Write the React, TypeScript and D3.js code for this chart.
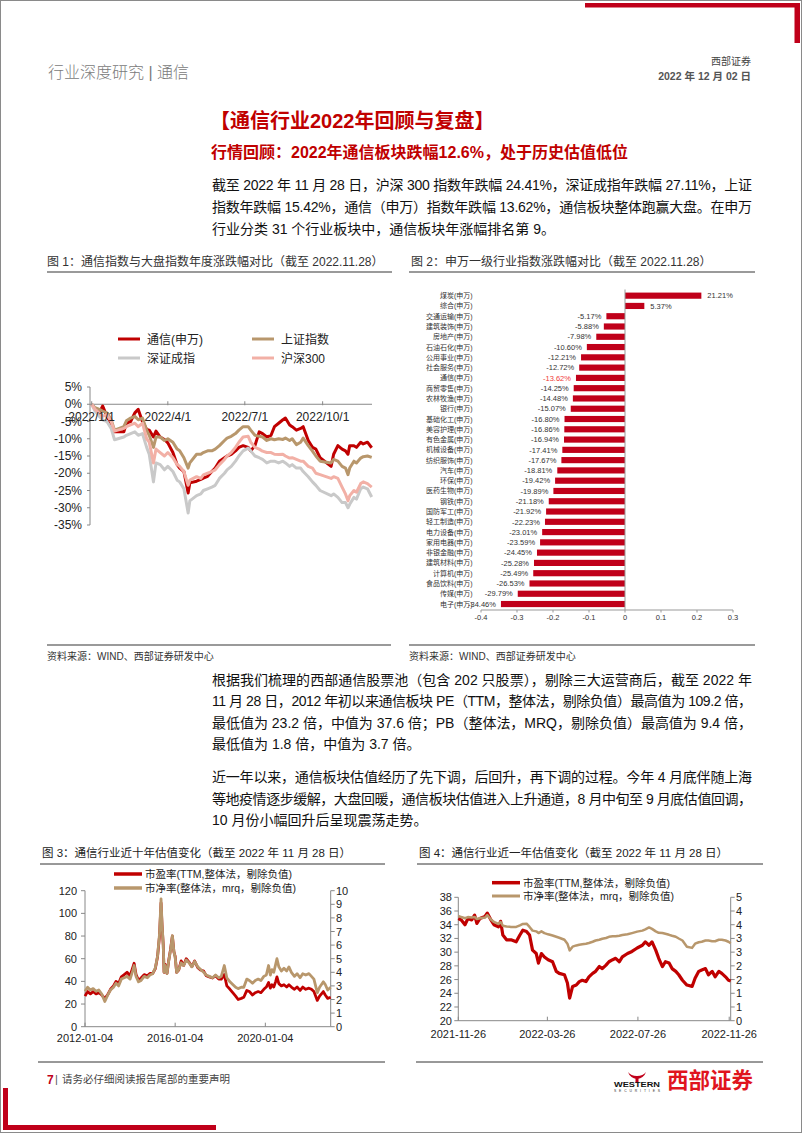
import React from 'react';
import * as d3 from 'd3';

const FONT = '"Liberation Sans", "Noto Sans CJK SC", sans-serif';
const RED = '#C00000';
const TAN = '#B8976C';
const GREY = '#C9C9C9';
const PINK = '#F2B0A6';
const BAR = '#C0001A';

const parse = (s: string) => d3.timeParse('%Y-%m-%d')(s) as Date;

// ---- Figure 1: index YTD change (%) ----
const f1Dates = [
  '2022-01-01', '2022-01-05', '2022-01-10', '2022-01-14', '2022-01-19', '2022-01-24', '2022-01-28',
  '2022-02-08', '2022-02-11', '2022-02-16', '2022-02-21', '2022-02-25',
  '2022-03-02', '2022-03-07', '2022-03-10', '2022-03-15', '2022-03-18', '2022-03-23', '2022-03-28',
  '2022-04-01', '2022-04-07', '2022-04-12', '2022-04-15', '2022-04-20', '2022-04-25', '2022-04-27',
  '2022-05-05', '2022-05-10', '2022-05-13', '2022-05-18', '2022-05-23', '2022-05-27',
  '2022-06-01', '2022-06-07', '2022-06-10', '2022-06-15', '2022-06-20', '2022-06-24', '2022-06-29',
  '2022-07-05', '2022-07-08', '2022-07-13', '2022-07-18', '2022-07-22', '2022-07-27',
  '2022-08-01', '2022-08-05', '2022-08-10', '2022-08-15', '2022-08-18', '2022-08-23', '2022-08-26', '2022-08-31',
  '2022-09-05', '2022-09-08', '2022-09-14', '2022-09-19', '2022-09-23', '2022-09-28',
  '2022-10-11', '2022-10-14', '2022-10-19', '2022-10-24', '2022-10-28', '2022-10-31',
  '2022-11-02', '2022-11-07', '2022-11-10', '2022-11-15', '2022-11-18', '2022-11-23', '2022-11-28',
];
const f1Tongxin = [
  0, -1.5, -2.5, -0.5, -3.5, -6.0, -8.0,
  -8.0, -5.5, -5.0, -2.5, -1.5,
  -5.0, -7.3, -7.5, -9.5, -7.8, -9.5, -10.2,
  -11.2, -14.0, -17.5, -18.5, -19.5, -25.7, -22.8,
  -22.3, -21.8, -21.4, -20.9, -19.5, -18.5,
  -16.5, -15.5, -15.0, -14.5, -13.5, -12.5, -12.0,
  -12.5, -13.5, -12.0, -8.0, -8.5, -9.5,
  -9.0, -6.5, -5.5, -4.5, -4.0, -6.0, -6.5, -7.5,
  -7.0, -6.5, -10.5, -12.5, -13.0, -15.5,
  -18.0, -14.5, -12.0, -13.0, -13.5, -14.5,
  -12.0, -12.0, -12.5, -11.0, -11.5, -11.0, -12.6,
];
const f1Shangzheng = [
  0, -1.0, -1.5, -2.0, -2.5, -4.5, -7.5,
  -6.5, -4.8, -4.0, -3.5, -4.5,
  -4.0, -7.5, -9.0, -12.5, -9.5, -9.5, -10.5,
  -10.0, -11.0, -13.0, -13.5, -15.5, -18.5, -17.0,
  -14.5, -14.5, -14.0, -13.5, -13.5, -13.0,
  -12.0, -10.5, -9.8, -9.3, -8.5, -7.5, -6.5,
  -6.5, -7.5, -9.0, -9.3, -9.5, -10.5,
  -10.0, -10.3, -10.0, -10.2, -9.8, -10.5, -10.0, -11.7,
  -11.0, -9.8, -12.0, -13.6, -15.0, -16.5,
  -17.0, -16.0, -16.5, -18.0, -18.5, -20.4,
  -18.5, -16.5, -17.0, -15.6, -15.2, -15.0, -15.4,
];
const f1Shenzheng = [
  0, -2.0, -3.5, -4.5, -5.0, -7.0, -10.3,
  -9.5, -9.0, -8.5, -8.0, -9.0,
  -8.5, -12.5, -14.5, -22.5, -17.0, -17.5, -19.0,
  -18.0, -19.5, -22.0, -22.5, -24.5, -31.5, -28.0,
  -26.5, -26.0, -25.0, -24.5, -24.0, -23.5,
  -21.5, -20.0, -19.0, -18.0, -16.5, -15.0, -13.5,
  -12.7, -13.5, -15.0, -15.5, -16.0, -17.0,
  -16.5, -16.5, -17.0, -16.5, -17.0, -18.0, -17.5, -18.5,
  -18.5, -19.5, -21.0, -22.5, -23.5, -25.0,
  -26.5, -26.0, -27.0, -28.5, -28.5, -30.0,
  -29.0, -27.0, -27.5, -24.5, -24.0, -24.5, -26.9,
];
const f1Hs300 = [
  0, -1.5, -2.5, -3.5, -3.0, -5.0, -7.8,
  -7.0, -6.5, -6.0, -5.5, -6.5,
  -5.5, -10.0, -11.0, -17.0, -13.0, -14.0, -15.0,
  -14.0, -15.5, -17.5, -18.0, -19.5, -23.5, -22.0,
  -21.0, -21.5, -20.5, -20.0, -19.5, -19.0,
  -17.5, -16.0, -15.0, -14.0, -12.5, -11.0, -9.5,
  -9.3, -11.0, -12.5, -13.0, -13.6, -14.0,
  -14.0, -14.5, -14.6, -14.5, -15.0, -15.6, -15.5, -16.0,
  -16.5, -16.5, -18.0, -18.5, -20.0, -20.4,
  -21.5, -21.0, -21.5, -24.0, -26.0, -28.0,
  -26.5, -25.0, -25.5, -23.0, -22.5, -23.0, -24.0,
];
const f1YTicks = [5, 0, -5, -10, -15, -20, -25, -30, -35];
const f1XTicks = ['2022-01-01', '2022-04-01', '2022-07-01', '2022-10-01'];

// ---- Figure 2: SW level-1 industries YTD ----
const f2Industries = [
  '煤炭(申万)', '综合(申万)', '交通运输(申万)', '建筑装饰(申万)', '房地产(申万)', '石油石化(申万)',
  '公用事业(申万)', '社会服务(申万)', '通信(申万)', '商贸零售(申万)', '农林牧渔(申万)', '银行(申万)',
  '基础化工(申万)', '美容护理(申万)', '有色金属(申万)', '机械设备(申万)', '纺织服饰(申万)', '汽车(申万)',
  '环保(申万)', '医药生物(申万)', '钢铁(申万)', '国防军工(申万)', '轻工制造(申万)', '电力设备(申万)',
  '家用电器(申万)', '非银金融(申万)', '建筑材料(申万)', '计算机(申万)', '食品饮料(申万)', '传媒(申万)',
  '电子(申万)',
];
const f2Returns = [
  21.21, 5.37, -5.17, -5.88, -7.98, -10.60, -12.21, -12.72, -13.62, -14.25, -14.48, -15.07,
  -16.80, -16.86, -16.94, -17.41, -17.67, -18.81, -19.42, -19.89, -21.18, -21.92, -22.23,
  -23.01, -23.59, -24.45, -25.28, -25.49, -26.53, -29.79, -34.46,
];
const f2XTicks = [-0.4, -0.3, -0.2, -0.1, 0, 0.1, 0.2, 0.3];

// ---- Figure 3: ten-year valuation ----
const f3Dates = [
  '2012-01-04', '2012-02-15', '2012-04-01', '2012-05-15', '2012-07-01', '2012-08-15', '2012-10-01', '2012-11-20',
  '2013-01-04', '2013-02-20', '2013-04-10', '2013-05-20', '2013-07-01', '2013-08-15', '2013-10-01', '2013-11-15',
  '2014-01-04', '2014-02-15', '2014-03-10', '2014-04-10', '2014-05-20', '2014-07-01', '2014-08-20', '2014-10-10', '2014-11-20',
  '2015-01-04', '2015-02-15', '2015-03-25', '2015-04-25', '2015-05-20', '2015-06-05', '2015-06-25', '2015-07-08',
  '2015-07-25', '2015-08-25', '2015-09-20', '2015-10-20', '2015-11-20', '2015-12-15',
  '2016-01-04', '2016-01-28', '2016-03-01', '2016-04-10', '2016-05-20', '2016-07-01', '2016-08-15', '2016-10-01', '2016-11-15',
  '2017-01-04', '2017-02-20', '2017-04-10', '2017-05-20', '2017-07-10', '2017-09-01', '2017-10-20', '2017-12-10',
  '2018-01-20', '2018-03-10', '2018-04-20', '2018-06-10', '2018-07-25', '2018-09-10', '2018-10-20', '2018-12-10',
  '2019-01-20', '2019-03-10', '2019-04-20', '2019-06-10', '2019-07-25', '2019-09-10', '2019-10-25', '2019-12-10',
  '2020-01-20', '2020-02-25', '2020-03-25', '2020-04-20', '2020-05-20', '2020-06-20', '2020-07-10', '2020-08-10',
  '2020-09-20', '2020-11-01', '2020-12-15',
  '2021-01-20', '2021-03-01', '2021-04-20', '2021-06-01', '2021-07-20', '2021-09-01', '2021-10-20', '2021-12-10',
  '2022-01-20', '2022-03-01', '2022-04-25', '2022-06-01', '2022-08-01', '2022-09-01', '2022-10-10', '2022-11-28',
];
const f3Pe = [
  27, 31, 29, 31, 29, 30, 28, 25,
  28, 33, 36, 40, 38, 44, 46, 48,
  45, 52, 56, 46, 41, 43, 46, 45, 47,
  47, 51, 62, 80, 109.2, 90, 72, 48,
  55, 47, 58, 68, 80, 66,
  62, 48, 50, 58, 54, 60, 57, 53, 58,
  52, 50, 49, 45, 44, 43, 45, 42,
  42, 46, 36, 33, 30, 27, 24, 25,
  26, 32, 31, 28, 30, 31, 30, 33,
  35, 39, 34, 37, 35, 40, 44, 38,
  36, 37, 35,
  37, 35, 33, 35, 32, 35, 33, 34,
  33, 31, 23.2, 27, 31, 28, 25, 26,
];
const f3Pb = [
  2.6, 2.9, 2.7, 2.8, 2.6, 2.7, 2.4, 1.85,
  2.3, 2.7, 2.9, 3.2, 3.0, 3.5, 3.6, 3.7,
  3.5, 4.1, 4.5, 3.7, 3.3, 3.4, 3.7, 3.6, 3.8,
  3.9, 4.3, 5.2, 6.8, 9.4, 7.6, 6.0, 4.0,
  4.5, 3.9, 4.8, 5.6, 6.7, 5.5,
  5.1, 4.0, 4.2, 4.7, 4.5, 4.9, 4.7, 4.4, 4.8,
  4.4, 4.2, 4.0, 3.8, 3.7, 3.6, 3.8, 3.6,
  3.7, 4.5, 3.6, 3.3, 3.1, 2.9, 2.8, 2.9,
  2.9, 3.5, 3.4, 3.2, 3.4, 3.5, 3.4, 3.7,
  3.8, 4.5, 3.8, 4.2, 4.0, 4.6, 5.0, 4.4,
  4.1, 4.3, 4.1,
  4.4, 4.0, 3.7, 3.9, 3.6, 3.9, 3.8, 3.9,
  3.7, 3.5, 2.5, 2.9, 3.3, 3.1, 2.7, 2.9,
];
const f3LeftTicks = [0, 20, 40, 60, 80, 100, 120];
const f3RightTicks = [0, 1, 2, 3, 4, 5, 6, 7, 8, 9, 10];
const f3XTicks = ['2012-01-04', '2016-01-04', '2020-01-04'];

// ---- Figure 4: one-year valuation ----
const f4Dates = [
  '2021-11-26', '2021-11-30', '2021-12-05', '2021-12-09', '2021-12-14', '2021-12-18', '2021-12-21', '2021-12-25',
  '2022-01-01', '2022-01-04', '2022-01-09', '2022-01-13', '2022-01-19', '2022-01-22', '2022-01-25', '2022-01-30',
  '2022-02-05', '2022-02-12', '2022-02-17', '2022-02-21', '2022-02-26',
  '2022-03-02', '2022-03-06', '2022-03-11', '2022-03-14', '2022-03-18', '2022-03-22', '2022-03-27',
  '2022-04-02', '2022-04-07', '2022-04-11', '2022-04-18', '2022-04-22', '2022-04-25', '2022-04-29',
  '2022-05-04', '2022-05-08', '2022-05-12', '2022-05-17', '2022-05-21', '2022-05-26', '2022-05-30',
  '2022-06-04', '2022-06-08', '2022-06-13', '2022-06-17', '2022-06-22', '2022-06-26',
  '2022-07-01', '2022-07-05', '2022-07-12', '2022-07-18', '2022-07-25',
  '2022-08-01', '2022-08-05', '2022-08-10', '2022-08-14', '2022-08-19', '2022-08-23', '2022-08-28',
  '2022-09-01', '2022-09-06', '2022-09-10', '2022-09-15', '2022-09-19', '2022-09-24', '2022-09-30',
  '2022-10-07', '2022-10-11', '2022-10-16', '2022-10-20', '2022-10-25', '2022-10-29',
  '2022-11-03', '2022-11-07', '2022-11-12', '2022-11-16', '2022-11-21', '2022-11-25', '2022-11-28',
];
const f4Pe = [
  34.9, 34.7, 34.0, 34.9, 34.7, 35.4, 34.2, 34.9,
  35.2, 35.7, 34.7, 34.0, 33.7, 34.5, 32.5, 31.8,
  31.8, 31.5, 32.5, 33.2, 33.0,
  32.5, 30.3, 29.8, 28.4, 29.8, 29.3, 28.9,
  28.6, 27.2, 26.9, 26.7, 25.5, 23.3, 25.0,
  25.2, 25.7, 25.9, 25.7, 26.4, 26.9, 27.2,
  27.9, 27.6, 28.1, 28.6, 28.9, 29.1,
  28.6, 29.3, 29.8, 30.1, 30.6,
  31.0, 31.5, 31.0, 31.5, 30.3, 29.1, 27.9,
  28.6, 28.4, 27.6, 27.2, 26.7, 25.9, 25.2,
  25.0, 26.2, 27.2, 27.4, 27.6, 26.7,
  27.2, 26.4, 27.2, 26.9, 26.4, 25.9, 25.8,
];
const f4Pb = [
  4.25, 4.20, 4.15, 4.20, 4.18, 4.20, 4.12, 4.15,
  4.18, 4.28, 4.10, 4.00, 3.92, 4.00, 3.85, 3.82,
  3.80, 3.80, 3.86, 3.92, 3.93,
  3.80, 3.65, 3.62, 3.55, 3.62, 3.55, 3.50,
  3.45, 3.40, 3.36, 3.28, 3.12, 2.85, 3.00,
  3.05, 3.08, 3.10, 3.12, 3.15, 3.20, 3.25,
  3.28, 3.32, 3.35, 3.40, 3.42, 3.42,
  3.44, 3.47, 3.50, 3.55, 3.61,
  3.65, 3.70, 3.78, 3.72, 3.62, 3.56, 3.55,
  3.52, 3.48, 3.44, 3.40, 3.33, 3.25, 3.00,
  2.95, 3.12, 3.18, 3.20, 3.25, 3.25,
  3.22, 3.22, 3.28, 3.28, 3.25, 3.20, 3.14,
];
const f4LeftTicks = [20, 22, 24, 26, 28, 30, 32, 34, 36, 38];
const f4XTicks = ['2021-11-26', '2022-03-26', '2022-07-26', '2022-11-26'];

const para1 = [
  '截至 2022 年 11 月 28 日，沪深 300 指数年跌幅 24.41%，深证成指年跌幅 27.11%，上证',
  '指数年跌幅 15.42%，通信（申万）指数年跌幅 13.62%，通信板块整体跑赢大盘。在申万',
  '行业分类 31 个行业板块中，通信板块年涨幅排名第 9。',
];
const para2 = [
  '根据我们梳理的西部通信股票池（包含 202 只股票），剔除三大运营商后，截至 2022 年',
  '11 月 28 日，2012 年初以来通信板块 PE（TTM，整体法，剔除负值）最高值为 109.2 倍，',
  '最低值为 23.2 倍，中值为 37.6 倍；PB（整体法，MRQ，剔除负值）最高值为 9.4 倍，',
  '最低值为 1.8 倍，中值为 3.7 倍。',
];
const para3 = [
  '近一年以来，通信板块估值经历了先下调，后回升，再下调的过程。今年 4 月底伴随上海',
  '等地疫情逐步缓解，大盘回暖，通信板块估值进入上升通道，8 月中旬至 9 月底估值回调，',
  '10 月份小幅回升后呈现震荡走势。',
];

function Paragraph({ lines, y0, step }: { lines: string[]; y0: number; step: number }) {
  return (
    <g fontSize={14} fill="#111">
      {lines.map((t, i) => (
        <text key={i} x={212} y={y0 + i * step}
          {...(i < lines.length - 1 ? { textLength: 540, lengthAdjust: 'spacing' } : {})}>{t}</text>
      ))}
    </g>
  );
}

function Fig1() {
  const x = d3.scaleTime().domain([parse('2022-01-01'), parse('2022-11-28')]).range([91.7, 371.7]);
  const y = d3.scaleLinear().domain([-35, 5]).range([525, 387]);
  const dates = f1Dates.map(parse);
  const line = d3.line<number>().x((_, i) => x(dates[i])).y(v => y(v));
  const series = [
    { name: '通信(申万)', values: f1Tongxin, color: RED },
    { name: '上证指数', values: f1Shangzheng, color: TAN },
    { name: '深证成指', values: f1Shenzheng, color: GREY },
    { name: '沪深300', values: f1Hs300, color: PINK },
  ];
  const legendPos = [[118, 339], [252, 339], [118, 358], [252, 358]];
  const fmt = d3.timeFormat('%Y/%-m/%-d');
  return (
    <g>
      <text x={47} y={265.5} fontSize={12} fill="#333">图 1：通信指数与大盘指数年度涨跌幅对比（截至 2022.11.28）</text>
      <line x1={47} x2={392} y1={272} y2={272} stroke="#9a9a9a" strokeWidth={2} />
      {series.map((s, i) => (
        <g key={s.name}>
          <line x1={legendPos[i][0]} x2={legendPos[i][0] + 22} y1={legendPos[i][1]} y2={legendPos[i][1]}
            stroke={s.color} strokeWidth={3} />
          <text x={legendPos[i][0] + 29} y={legendPos[i][1] + 4.5} fontSize={12} fill="#222">{s.name}</text>
        </g>
      ))}
      <line x1={90} x2={90} y1={387} y2={525} stroke="#888" />
      {f1YTicks.map(t => (
        <g key={t}>
          <line x1={87} x2={90} y1={y(t)} y2={y(t)} stroke="#888" />
          <text x={82} y={y(t) + 4.2} fontSize={12} textAnchor="end" fill="#222">{t}%</text>
        </g>
      ))}
      <line x1={90} x2={372} y1={y(0)} y2={y(0)} stroke="#888" />
      {series.map(s => (
        <path key={s.name} d={line(s.values) || ''} fill="none" stroke={s.color} strokeWidth={3}
          strokeLinejoin="round" />
      ))}
      {f1XTicks.map(t => (
        <g key={t}>
          <line x1={x(parse(t))} x2={x(parse(t))} y1={y(0) - 3} y2={y(0) + 1} stroke="#888" />
          <text x={x(parse(t))} y={y(0) + 17} fontSize={12} textAnchor="middle" fill="#222">{fmt(parse(t))}</text>
        </g>
      ))}
    </g>
  );
}

function Fig2() {
  const x = d3.scaleLinear().domain([-0.4, 0.3]).range([481, 733]);
  const y = d3.scaleBand().domain(f2Industries).range([289.5, 610.2]).paddingInner(0.4).paddingOuter(0.3);
  const bw = y.bandwidth();
  return (
    <g>
      <text x={411} y={265.5} fontSize={12} fill="#333">图 2：申万一级行业指数涨跌幅对比（截至 2022.11.28）</text>
      <line x1={409} x2={755} y1={272} y2={272} stroke="#9a9a9a" strokeWidth={2} />
      {f2Industries.map((name, i) => {
        const v = f2Returns[i] / 100;
        const yc = (y(name) as number) + bw / 2;
        const x0 = Math.min(x(0), x(v));
        return (
          <g key={name}>
            <rect x={x0} y={y(name)} width={Math.abs(x(v) - x(0))} height={bw} fill={BAR} />
            <text x={472.7} y={yc + 2.5} fontSize={7} textAnchor="end" fill="#333">{name}</text>
            <text x={v >= 0 ? x(v) + 6 : x(v) - 5} y={yc + 2.7} fontSize={7.5}
              textAnchor={v >= 0 ? 'start' : 'end'} fill={name === '通信(申万)' ? '#F03A3A' : '#333'}>
              {f2Returns[i].toFixed(2)}%
            </text>
          </g>
        );
      })}
      <line x1={x(0)} x2={x(0)} y1={289.5} y2={610} stroke="#999" />
      <line x1={481} x2={733} y1={610} y2={610} stroke="#999" />
      {f2XTicks.map(t => (
        <g key={t}>
          <line x1={x(t)} x2={x(t)} y1={610} y2={612.5} stroke="#999" />
          <text x={x(t)} y={619.5} fontSize={7.5} textAnchor="middle" fill="#333">{String(t)}</text>
        </g>
      ))}
    </g>
  );
}

function Fig3() {
  const x = d3.scaleTime().domain([parse('2012-01-04'), parse('2022-11-28')]).range([85, 330.7]);
  const yL = d3.scaleLinear().domain([0, 120]).range([1026.7, 890.7]);
  const yR = d3.scaleLinear().domain([0, 10]).range([1026.7, 890.7]);
  const dates = f3Dates.map(parse);
  const peLine = d3.line<number>().x((_, i) => x(dates[i])).y(v => yL(v));
  const pbLine = d3.line<number>().x((_, i) => x(dates[i])).y(v => yR(v));
  return (
    <g>
      <text x={42} y={857} fontSize={11.5} fill="#222">图 3：通信行业近十年估值变化（截至 2022 年 11 月 28 日）</text>
      <line x1={40} x2={385} y1={864} y2={864} stroke="#333" strokeWidth={1} />
      <line x1={114} x2={142} y1={874} y2={874} stroke={RED} strokeWidth={3.5} />
      <text x={145} y={877.8} fontSize={10.5} fill="#222">市盈率(TTM,整体法，剔除负值)</text>
      <line x1={114} x2={142} y1={888} y2={888} stroke={TAN} strokeWidth={3.5} />
      <text x={145} y={891.8} fontSize={10.5} fill="#222">市净率(整体法，mrq，剔除负值)</text>
      <line x1={85} x2={85} y1={890.7} y2={1026.7} stroke="#888" />
      <line x1={330.7} x2={330.7} y1={890.7} y2={1026.7} stroke="#888" />
      {f3LeftTicks.map(t => (
        <g key={t}>
          <line x1={81} x2={85} y1={yL(t)} y2={yL(t)} stroke="#888" />
          <text x={77} y={yL(t) + 4} fontSize={11} textAnchor="end" fill="#222">{t}</text>
        </g>
      ))}
      {f3RightTicks.map(t => (
        <g key={t}>
          <line x1={330.7} x2={334.7} y1={yR(t)} y2={yR(t)} stroke="#888" />
          <text x={336} y={yR(t) + 4} fontSize={11} fill="#222">{t}</text>
        </g>
      ))}
      <path d={peLine(f3Pe) || ''} fill="none" stroke={RED} strokeWidth={2.8} strokeLinejoin="round" />
      <path d={pbLine(f3Pb) || ''} fill="none" stroke={TAN} strokeWidth={2.8} strokeLinejoin="round" />
      <line x1={85} x2={330.7} y1={1026.7} y2={1026.7} stroke="#888" />
      {f3XTicks.map(t => (
        <g key={t}>
          <line x1={x(parse(t))} x2={x(parse(t))} y1={1022.7} y2={1026.7} stroke="#888" />
          <text x={x(parse(t))} y={1042} fontSize={11} textAnchor="middle" fill="#222">{t}</text>
        </g>
      ))}
      <line x1={38} x2={385} y1={1062} y2={1062} stroke="#333" />
    </g>
  );
}

function Fig4() {
  const x = d3.scaleTime().domain([parse('2021-11-26'), parse('2022-11-28')]).range([458.3, 730.7]);
  const yL = d3.scaleLinear().domain([20, 38]).range([1020.7, 897.3]);
  const yR = d3.scaleLinear().domain([0, 5]).range([1020.7, 897.3]);
  const dates = f4Dates.map(parse);
  const peLine = d3.line<number>().x((_, i) => x(dates[i])).y(v => yL(v));
  const pbLine = d3.line<number>().x((_, i) => x(dates[i])).y(v => yR(v));
  const rightTicks = d3.range(10).map(i => (5 * i) / 9);
  return (
    <g>
      <defs>
        <clipPath id="f4clip"><rect x={405} y={840} width={352} height={210} /></clipPath>
      </defs>
      <text x={419} y={857} fontSize={11.5} fill="#222">图 4：通信行业近一年估值变化（截至 2022 年 11 月 28 日）</text>
      <line x1={417} x2={763} y1={864} y2={864} stroke="#333" strokeWidth={1} />
      <line x1={492} x2={520} y1={882.7} y2={882.7} stroke={RED} strokeWidth={3.5} />
      <text x={523} y={886.5} fontSize={10.5} fill="#222">市盈率(TTM,整体法，剔除负值)</text>
      <line x1={492} x2={520} y1={896} y2={896} stroke={TAN} strokeWidth={3} />
      <text x={523} y={899.8} fontSize={10.5} fill="#222">市净率(整体法，mrq，剔除负值)</text>
      <line x1={458.3} x2={458.3} y1={897.3} y2={1020.7} stroke="#888" />
      <line x1={730.7} x2={730.7} y1={897.3} y2={1020.7} stroke="#888" />
      {f4LeftTicks.map(t => (
        <g key={t}>
          <line x1={454.3} x2={458.3} y1={yL(t)} y2={yL(t)} stroke="#888" />
          <text x={452} y={yL(t) + 4} fontSize={11} textAnchor="end" fill="#222">{t}</text>
        </g>
      ))}
      {rightTicks.map(t => (
        <g key={t}>
          <line x1={730.7} x2={734.7} y1={yR(t)} y2={yR(t)} stroke="#888" />
          <text x={736} y={yR(t) + 4} fontSize={11} fill="#222">{Math.round(t)}</text>
        </g>
      ))}
      <path d={peLine(f4Pe) || ''} fill="none" stroke={RED} strokeWidth={3.2} strokeLinejoin="round" />
      <path d={pbLine(f4Pb) || ''} fill="none" stroke={TAN} strokeWidth={2.5} strokeLinejoin="round" />
      <line x1={458.3} x2={730.7} y1={1020.7} y2={1020.7} stroke="#888" />
      <g clipPath="url(#f4clip)">
        {f4XTicks.map(t => (
          <g key={t}>
            <line x1={x(parse(t))} x2={x(parse(t))} y1={1016.7} y2={1020.7} stroke="#888" />
            <text x={x(parse(t))} y={1038} fontSize={11} textAnchor="middle" fill="#222">{t}</text>
          </g>
        ))}
      </g>
      <line x1={416} x2={763} y1={1062} y2={1062} stroke="#333" />
    </g>
  );
}

export default function App() {
  return (
    <svg width={802} height={1133} style={{ position: 'absolute', left: 0, top: 0, background: '#fff' }}
      fontFamily={FONT}>
      <rect x={0} y={0} width={802} height={1133} fill="#fff" />
      <rect x={0.5} y={0.5} width={801} height={1132} fill="none" stroke="#8a8a8a" />
      {/* corner marks */}
      <rect x={585} y={3} width={215} height={4.5} fill={BAR} />
      <rect x={794.5} y={3} width={5.5} height={40} fill={BAR} />
      <rect x={3} y={1088} width={5} height={42} fill={BAR} />
      <rect x={3} y={1125} width={213} height={5} fill={BAR} />

      <text x={48} y={78} fontSize={16} fill="#7a7a7a" fontWeight={300}>行业深度研究 | 通信</text>
      <text x={751} y={65} fontSize={10} fill="#444" textAnchor="end">西部证券</text>
      <text x={751} y={80} fontSize={10.5} fill="#555" fontWeight="bold" textAnchor="end">2022 年 12 月 02 日</text>

      <text x={210} y={128} fontSize={20} fontWeight="bold" fill="#C00000">【通信行业2022年回顾与复盘】</text>
      <text x={211} y={157.5} fontSize={16} fontWeight="bold" fill="#C00000">行情回顾：2022年通信板块跌幅12.6%，处于历史估值低位</text>
      <Paragraph lines={para1} y0={190} step={21.8} />

      <Fig1 />
      <Fig2 />
      <line x1={47} x2={391} y1={645} y2={645} stroke="#9a9a9a" strokeWidth={2} />
      <line x1={409} x2={755} y1={645} y2={645} stroke="#9a9a9a" strokeWidth={2} />
      <text x={47} y={659.5} fontSize={10} fill="#333">资料来源：WIND、西部证券研发中心</text>
      <text x={409} y={659.5} fontSize={10} fill="#333">资料来源：WIND、西部证券研发中心</text>

      <Paragraph lines={para2} y0={685} step={21.3} />
      <Paragraph lines={para3} y0={782} step={21.6} />

      <Fig3 />
      <Fig4 />

      <text x={47} y={1083.5} fontSize={12} fontWeight="bold" fill={BAR}>7</text>
      <text x={55} y={1083} fontSize={11} fill="#555">|</text>
      <text x={62} y={1083} fontSize={10.5} fill="#444">请务必仔细阅读报告尾部的重要声明</text>
      <path d="M628,1072 Q630,1078 637,1079 Q644,1078 646,1072 Q643,1076 637,1076 Q631,1076 628,1072 Z" fill={BAR} />
      <rect x={635.5} y={1078} width={3} height={5} fill={BAR} />
      <text x={614} y={1087} fontSize={7.5} fontWeight="bold" fill="#111" textLength={46} lengthAdjust="spacingAndGlyphs">WESTERN</text>
      <text x={614} y={1091.5} fontSize={3.4} fill="#333" textLength={46} lengthAdjust="spacing">SECURITIES</text>
      <text x={667} y={1088} fontSize={21.5} fontWeight="bold" fill="#E0141E">西部证券</text>
    </svg>
  );
}
